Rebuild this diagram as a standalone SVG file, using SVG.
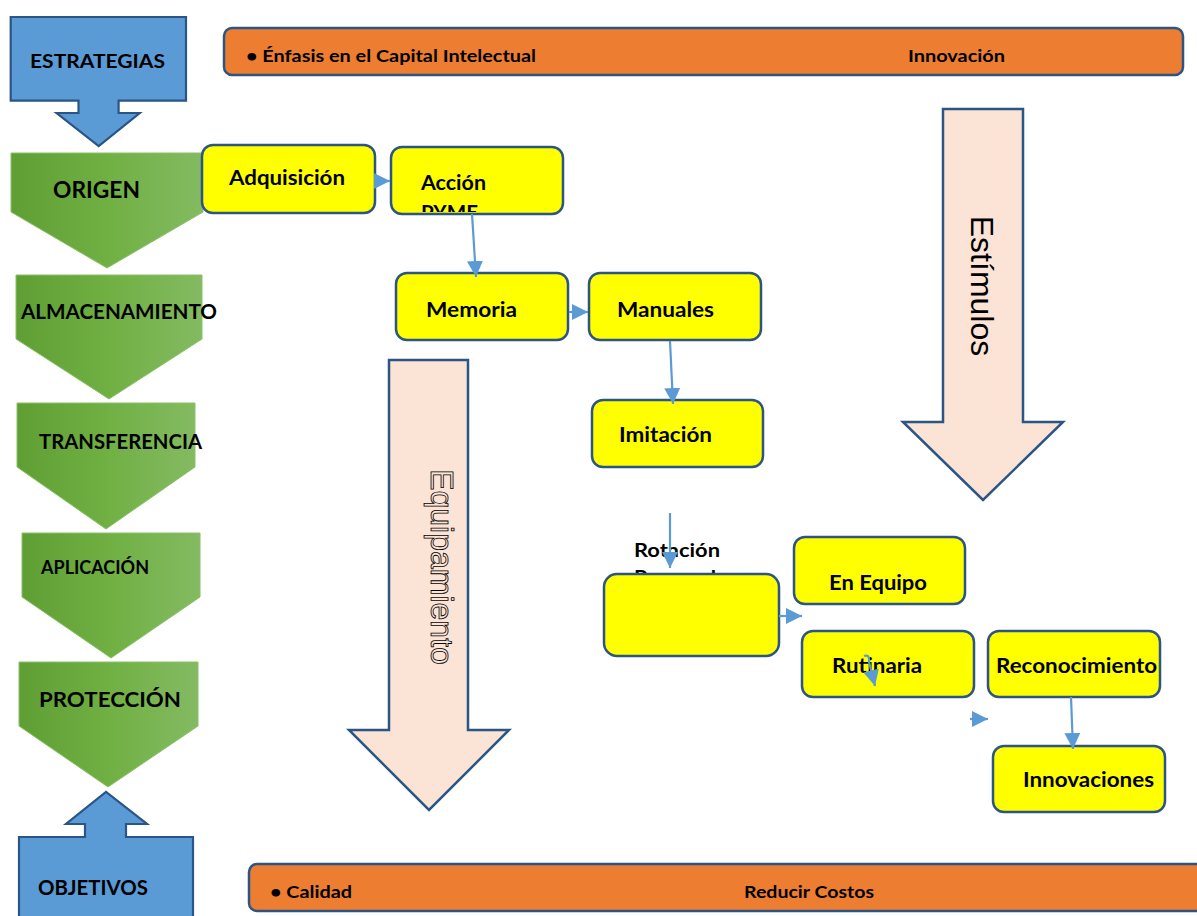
<svg xmlns="http://www.w3.org/2000/svg" width="1197" height="916" viewBox="0 0 1197 916">
  <style>
    .lbl { font-family: "Lato", "Liberation Sans", sans-serif; font-weight: bold; fill: #000; }
    .blue { fill: #5b9bd5; stroke: #2a5584; stroke-width: 2.2; }
    .orange { fill: #ed7d31; stroke: #2a5584; stroke-width: 2.5; }
    .yellow { fill: #ffff00; stroke: #2a5584; stroke-width: 2.5; }
    .pink { fill: #fbe3d6; stroke: #2a5584; stroke-width: 2.5; }
    .stage { fill: url(#greenGrad); stroke: #8cbf6a; stroke-width: 1; }
    .conn { fill: none; stroke: #5b9bd5; stroke-width: 2.2; }
  </style>
  <defs>
    <linearGradient id="greenGrad" x1="0" y1="0" x2="1" y2="0">
      <stop offset="0" stop-color="#5e9e33"/>
      <stop offset="0.5" stop-color="#70b043"/>
      <stop offset="1" stop-color="#84ba62"/>
    </linearGradient>
    <marker id="head" markerUnits="userSpaceOnUse" markerWidth="17" markerHeight="16" refX="16" refY="8" orient="auto">
      <path d="M0,0 L16,8 L0,16 Z" fill="#5b9bd5"/>
    </marker>
    <clipPath id="accionClip">
      <rect x="391" y="147" width="172" height="65"/>
    </clipPath>
  </defs>

  <!-- top band -->
  <g id="band-top">
    <rect class="orange" x="224" y="28" width="959" height="47" rx="8"/>
    <text class="lbl" x="246" y="62" font-size="17" textLength="290" lengthAdjust="spacingAndGlyphs">• Énfasis en el Capital Intelectual</text>
    <text class="lbl" x="908" y="62" font-size="17" textLength="97" lengthAdjust="spacingAndGlyphs">Innovación</text>
  </g>

  <!-- bottom band -->
  <g id="band-bottom">
    <rect class="orange" x="249" y="864" width="970" height="47" rx="8"/>
    <text class="lbl" x="270" y="898" font-size="17" textLength="82" lengthAdjust="spacingAndGlyphs">• Calidad</text>
    <text class="lbl" x="744" y="898" font-size="17" textLength="130" lengthAdjust="spacingAndGlyphs">Reducir Costos</text>
  </g>

  <!-- strategy / objective callouts -->
  <g id="estrategias">
    <path class="blue" d="M10.7,17 H186 V100.7 H118.6 V113 H139.7 L98.7,146 L56.6,113 H78.5 V100.7 H10.7 Z"/>
    <text class="lbl" x="30" y="68" font-size="19" textLength="135" lengthAdjust="spacingAndGlyphs">ESTRATEGIAS</text>
  </g>
  <g id="objetivos">
    <path class="blue" d="M19,920 V837 H85 V824 H66 L106,792 L147,824 H126 V837 H193 V920 Z"/>
    <text class="lbl" x="38" y="895" font-size="20" textLength="110" lengthAdjust="spacingAndGlyphs">OBJETIVOS</text>
  </g>

  <!-- process stages -->
  <g id="origen">
    <polygon class="stage" points="11,153 203,153 203,212 107,268 11,212"/>
    <text class="lbl" x="53" y="198" font-size="22" textLength="87" lengthAdjust="spacingAndGlyphs">ORIGEN</text>
  </g>
  <g id="almacenamiento">
    <polygon class="stage" points="16,275 202,275 202,339 109,399 16,339"/>
    <text class="lbl" x="21" y="319" font-size="21" textLength="196" lengthAdjust="spacingAndGlyphs">ALMACENAMIENTO</text>
  </g>
  <g id="transferencia">
    <polygon class="stage" points="17,403 195,403 195,467 106,529 17,467"/>
    <text class="lbl" x="39" y="449" font-size="21" textLength="163" lengthAdjust="spacingAndGlyphs">TRANSFERENCIA</text>
  </g>
  <g id="aplicacion">
    <polygon class="stage" points="22,533 200,533 200,597 111,658 22,597"/>
    <text class="lbl" x="41" y="574" font-size="18" textLength="108" lengthAdjust="spacingAndGlyphs">APLICACIÓN</text>
  </g>
  <g id="proteccion">
    <polygon class="stage" points="19,662 198,662 198,726 108,787 19,726"/>
    <text class="lbl" x="39" y="707" font-size="20.5" textLength="142" lengthAdjust="spacingAndGlyphs">PROTECCIÓN</text>
  </g>

  <!-- large direction arrows -->
  <g id="estimulos">
    <path class="pink" d="M943,109 H1023 V422 H1063 L983,500 L903,422 H943 Z"/>
    <text transform="translate(971,286) rotate(90)" x="0" y="0" text-anchor="middle" font-family="Liberation Sans, Arial, sans-serif" font-size="32" fill="#000">Estímulos</text>
  </g>
  <g id="equipamiento">
    <path class="pink" d="M389,360 H468 V730 H509 L429,810 L349,730 H389 Z"/>
    <text transform="translate(431,567) rotate(90)" x="0" y="0" text-anchor="middle" font-family="Liberation Sans, Arial, sans-serif" font-size="32" fill="#fbe3d6" stroke="#000" stroke-width="0.8">Equipamiento</text>
  </g>

  <!-- knowledge flow boxes -->
  <g id="adquisicion">
    <rect class="yellow" x="202" y="145" width="173" height="68" rx="11"/>
    <text class="lbl" x="229" y="185" font-size="21" textLength="116" lengthAdjust="spacingAndGlyphs">Adquisición</text>
  </g>
  <g id="accion-pyme">
    <rect class="yellow" x="391" y="147" width="172" height="67" rx="11"/>
    <g clip-path="url(#accionClip)">
      <text class="lbl" x="421" y="190" font-size="21" textLength="65" lengthAdjust="spacingAndGlyphs">Acción</text>
      <text class="lbl" x="421" y="220" font-size="21" textLength="57" lengthAdjust="spacingAndGlyphs">PYME</text>
    </g>
  </g>
  <g id="memoria">
    <rect class="yellow" x="396" y="273" width="172" height="67" rx="11"/>
    <text class="lbl" x="426" y="317" font-size="21" textLength="91" lengthAdjust="spacingAndGlyphs">Memoria</text>
  </g>
  <g id="manuales">
    <rect class="yellow" x="589" y="273" width="172" height="67" rx="11"/>
    <text class="lbl" x="617" y="317" font-size="21" textLength="97" lengthAdjust="spacingAndGlyphs">Manuales</text>
  </g>
  <g id="imitacion">
    <rect class="yellow" x="592" y="400" width="171" height="67" rx="11"/>
    <text class="lbl" x="619" y="442" font-size="21" textLength="93" lengthAdjust="spacingAndGlyphs">Imitación</text>
  </g>
  <g id="rotacion-personal">
    <text class="lbl" x="634" y="557" font-size="19.5" textLength="86" lengthAdjust="spacingAndGlyphs">Rotación</text>
    <text class="lbl" x="634" y="584" font-size="19.5" textLength="82" lengthAdjust="spacingAndGlyphs">Personal</text>
    <rect class="yellow" x="604" y="574" width="175" height="82" rx="13"/>
  </g>
  <g id="en-equipo">
    <rect class="yellow" x="794" y="537" width="171" height="67" rx="11"/>
    <text class="lbl" x="829" y="590" font-size="21" textLength="98" lengthAdjust="spacingAndGlyphs">En Equipo</text>
  </g>
  <g id="rutinaria">
    <rect class="yellow" x="802" y="631" width="172" height="66" rx="11"/>
    <text class="lbl" x="832" y="673" font-size="21" textLength="90" lengthAdjust="spacingAndGlyphs">Rutinaria</text>
  </g>
  <g id="reconocimiento">
    <rect class="yellow" x="988" y="631" width="172" height="66" rx="11"/>
    <text class="lbl" x="996" y="673" font-size="21" textLength="161" lengthAdjust="spacingAndGlyphs">Reconocimiento</text>
  </g>
  <g id="innovaciones">
    <rect class="yellow" x="993" y="746" width="172" height="66" rx="11"/>
    <text class="lbl" x="1023" y="787" font-size="21" textLength="131" lengthAdjust="spacingAndGlyphs">Innovaciones</text>
  </g>

  <!-- connectors -->
  <g id="connectors">
    <line class="conn" x1="374" y1="181" x2="390" y2="181" marker-end="url(#head)"/>
    <line class="conn" x1="472" y1="214" x2="476" y2="277" marker-end="url(#head)"/>
    <line class="conn" x1="569" y1="312" x2="588" y2="312" marker-end="url(#head)"/>
    <line class="conn" x1="670" y1="341" x2="673" y2="404" marker-end="url(#head)"/>
    <line class="conn" x1="670" y1="513" x2="670" y2="568" marker-end="url(#head)"/>
    <line class="conn" x1="779" y1="616" x2="802" y2="616" marker-end="url(#head)"/>
    <path class="conn" d="M864,656 Q870,654 869,662 L875,686" marker-end="url(#head)"/>
    <line class="conn" x1="970" y1="719" x2="988" y2="719" marker-end="url(#head)"/>
    <line class="conn" x1="1071" y1="697" x2="1073" y2="749" marker-end="url(#head)"/>
  </g>
</svg>
